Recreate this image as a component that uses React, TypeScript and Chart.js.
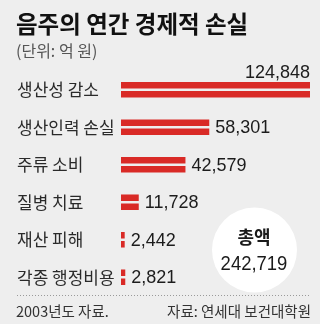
import React, { useEffect, useRef } from 'react';
import { Chart, registerables } from 'chart.js';

Chart.register(...registerables);

const TITLE = '음주의 연간 경제적 손실';
const SUBTITLE = '(단위: 억 원)';
const categories = ['생산성 감소', '생산인력 손실', '주류 소비', '질병 치료', '재산 피해', '각종 행정비용'];
const values = [124848, 58301, 42579, 11728, 2442, 2821];
const totalLabel = '총액';
const totalValue = 242719;
const footLeft = '2003년도 자료.';
const footRight = '자료: 연세대 보건대학원';

const KR = '"Noto Sans CJK KR", "Noto Sans", sans-serif';
const NUM = '"Liberation Sans", Arial, sans-serif';
const RED = '#d92a26';

const fmt = (v: number) => v.toLocaleString('en-US');

const valueLabels = {
  id: 'valueLabels',
  afterDatasetsDraw(chart: any) {
    const m0 = chart.getDatasetMeta(0);
    const m1 = chart.getDatasetMeta(1);
    const ctx = chart.ctx;
    ctx.save();
    ctx.fillStyle = '#1c1c1c';
    ctx.font = `18px ${NUM}`;
    m0.data.forEach((bar: any, i: number) => {
      const b1 = m1.data[i];
      const xEnd = Math.max(bar.x, b1.x);
      const top = bar.y - bar.height / 2;
      const cy = (bar.y + b1.y) / 2;
      const txt = fmt(values[i]);
      if (i === 0) {
        ctx.textAlign = 'right';
        ctx.textBaseline = 'alphabetic';
        ctx.fillText(txt, xEnd, top - 4);
      } else {
        ctx.textAlign = 'left';
        ctx.textBaseline = 'middle';
        ctx.fillText(txt, xEnd + 6, cy + 1);
      }
    });
    ctx.restore();
  },
};

const decorations = {
  id: 'decorations',
  afterDraw(chart: any) {
    const ctx = chart.ctx;
    ctx.save();
    // title
    ctx.fillStyle = '#111';
    ctx.textAlign = 'left';
    ctx.textBaseline = 'middle';
    ctx.font = `bold 23.5px ${KR}`;
    ctx.fillText(TITLE, 16, 24);
    // subtitle
    ctx.fillStyle = '#555';
    ctx.font = `16px ${KR}`;
    ctx.fillText(SUBTITLE, 16, 51);
    // dotted separator
    ctx.strokeStyle = '#9a9a9a';
    ctx.lineWidth = 1;
    ctx.setLineDash([1, 2]);
    ctx.beginPath();
    ctx.moveTo(17, 295.5);
    ctx.lineTo(310, 295.5);
    ctx.stroke();
    ctx.setLineDash([]);
    // footer
    ctx.fillStyle = '#333';
    ctx.font = `14.5px ${KR}`;
    ctx.textAlign = 'left';
    ctx.fillText(footLeft, 16, 311);
    ctx.textAlign = 'right';
    ctx.fillText(footRight, 311, 311);
    // total circle
    ctx.fillStyle = '#ffffff';
    ctx.beginPath();
    ctx.arc(254.5, 250, 42.5, 0, Math.PI * 2);
    ctx.fill();
    ctx.fillStyle = '#1a1a1a';
    ctx.textAlign = 'center';
    ctx.font = `bold 18px ${KR}`;
    ctx.fillText(totalLabel, 254, 237);
    ctx.save();
    ctx.translate(254, 264);
    ctx.scale(0.88, 1);
    ctx.font = `21px ${NUM}`;
    ctx.fillText(fmt(totalValue), 0, 0);
    ctx.restore();
    ctx.restore();
  },
};

export default function App() {
  const ref = useRef<HTMLCanvasElement>(null);
  useEffect(() => {
    if (!ref.current) return;
    const chart = new Chart(ref.current, {
      type: 'bar',
      data: {
        labels: categories,
        datasets: [
          { data: values, backgroundColor: RED, categoryPercentage: 18 / 37.4, barPercentage: 6.5 / 9 },
          { data: values, backgroundColor: RED, categoryPercentage: 18 / 37.4, barPercentage: 6.5 / 9 },
        ],
      },
      options: {
        indexAxis: 'y',
        responsive: false,
        animation: false,
        layout: { padding: { left: 17, right: 10, top: 71, bottom: 28 } },
        plugins: {
          legend: { display: false },
          tooltip: { enabled: false },
          title: { display: false },
        },
        scales: {
          x: { display: false, min: 0, max: Math.max(...values) },
          y: {
            grid: { display: false },
            border: { display: false },
            ticks: {
              crossAlign: 'far',
              color: '#2a2a2a',
              font: { family: KR, size: 17 },
            },
            afterFit: (scale: any) => {
              scale.width = 104;
            },
          },
        },
      },
      plugins: [valueLabels, decorations],
    });
    return () => chart.destroy();
  }, []);
  return (
    <div style={{ position: 'fixed', left: 0, top: 0, width: 320, height: 324, background: '#eeeeee' }}>
      <canvas ref={ref} width={320} height={324} style={{ display: 'block' }} />
    </div>
  );
}
